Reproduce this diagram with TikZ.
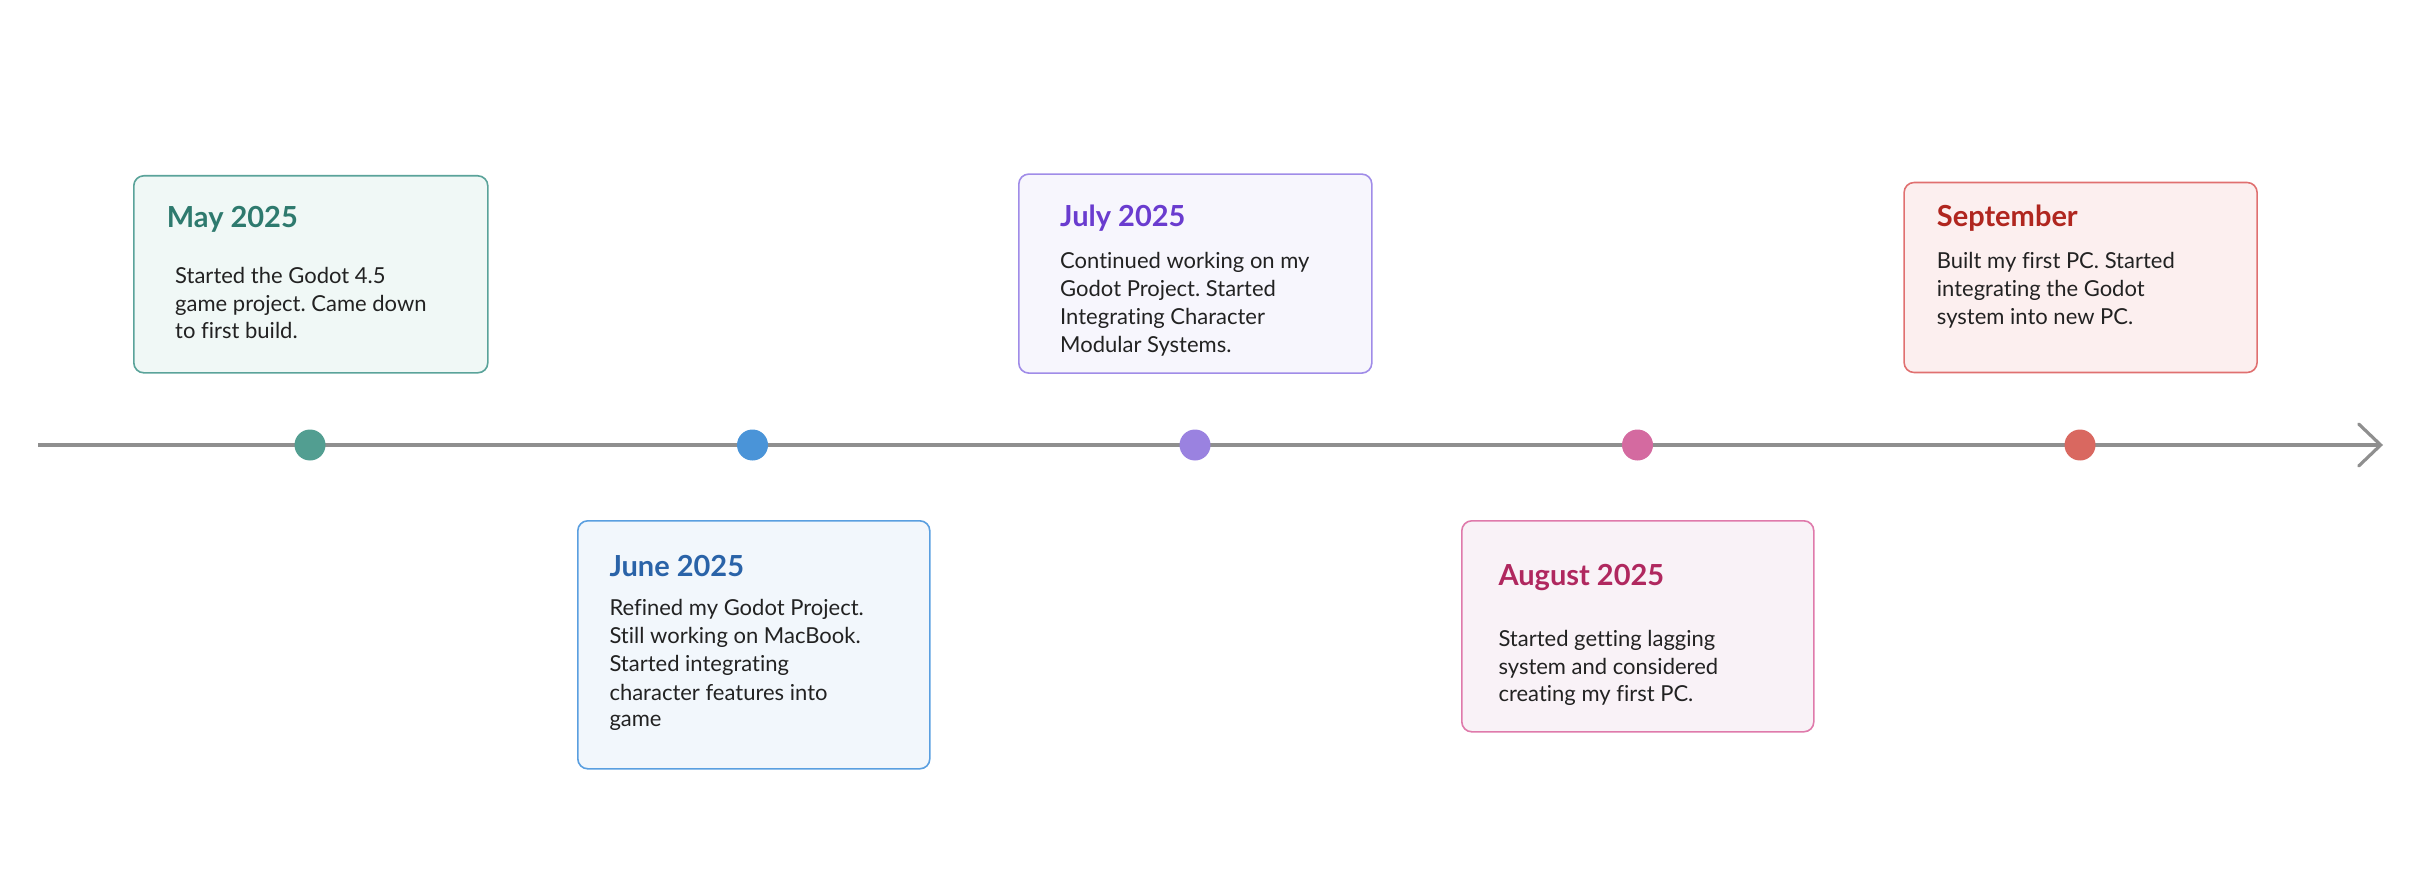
\documentclass[tikz,border=0pt]{standalone}
\usepackage{fontspec}
\setmainfont{Lato}[Ligatures=NoCommon]
\frenchspacing
\usetikzlibrary{arrows.meta}

% palette
\definecolor{axisgray}{HTML}{8F8F8F}
\definecolor{bodyink}{HTML}{222222}
\definecolor{tealline}{HTML}{5AA39A}\definecolor{tealfill}{HTML}{F0F8F6}\definecolor{tealink}{HTML}{2E7A6E}\definecolor{tealdot}{HTML}{529E91}
\definecolor{blueline}{HTML}{5A9FE0}\definecolor{bluefill}{HTML}{F2F7FC}\definecolor{blueink}{HTML}{2A63A8}\definecolor{bluedot}{HTML}{4A94D8}
\definecolor{violetline}{HTML}{A08CE8}\definecolor{violetfill}{HTML}{F7F6FD}\definecolor{violetink}{HTML}{6A3CCF}\definecolor{violetdot}{HTML}{9A82E0}
\definecolor{pinkline}{HTML}{DF7AAB}\definecolor{pinkfill}{HTML}{F9F2F7}\definecolor{pinkink}{HTML}{B0285F}\definecolor{pinkdot}{HTML}{D46AA0}
\definecolor{redline}{HTML}{E07070}\definecolor{redfill}{HTML}{FCEFEF}\definecolor{redink}{HTML}{B0261F}\definecolor{reddot}{HTML}{D96860}

\tikzset{
  card/.style 2 args={draw=#1, fill=#2, line width=1.6pt, rounded corners=10pt,
    inner sep=0pt, anchor=north west},
  heading/.style={anchor=base west, inner sep=0pt, text=#1,
    font=\fontsize{29}{34}\selectfont\bfseries},
  line/.style={anchor=base west, inner sep=0pt, text=bodyink,
    font=\fontsize{22}{28}\selectfont},
  milestone/.style={circle, fill=#1, minimum size=31pt, inner sep=0pt},
  axis/.style={draw=axisgray, line width=3.2pt,
    -{Straight Barb[length=22pt, width=42pt, line width=3.2pt, line cap=round]}},
}

\begin{document}
\begin{tikzpicture}[x=1pt, y=-1pt]
\useasboundingbox (0,0) rectangle (2418,869);

% timeline axis
\coordinate (axstart) at (38,445);
\coordinate (axend) at (2383,445);
\draw[axis] (axstart) -- (axend);

% milestones on the axis
\node[milestone=tealdot]   (d1) at (310,445) {};
\node[milestone=bluedot]   (d2) at (752.5,445) {};
\node[milestone=violetdot] (d3) at (1195,445) {};
\node[milestone=pinkdot]   (d4) at (1637.5,445) {};
\node[milestone=reddot]    (d5) at (2080,445) {};

% May
\node[card={tealline}{tealfill}, minimum width=354pt, minimum height=197pt] (b1) at (133,175) {};
\node[heading=tealink] (t1) at (166.7,228) {May 2025};
\node[line] (l11) at (175,283.3) {Started the Godot 4.5};
\node[line] (l12) at (175,311.7) {game project. Came down};
\node[line] (l13) at (175,338.3) {to first build.};

% June
\node[card={blueline}{bluefill}, minimum width=352pt, minimum height=248pt] (b2) at (577,520) {};
\node[heading=blueink] (t2) at (609.3,576.7) {June 2025};
\node[line] (l21) at (609.3,615) {Refined my Godot Project.};
\node[line] (l22) at (609.3,643.3) {Still working on MacBook.};
\node[line] (l23) at (609.3,671.7) {Started integrating};
\node[line] (l24) at (609.3,700) {character features into};
\node[line] (l25) at (609.3,726.7) {game};

% July
\node[card={violetline}{violetfill}, minimum width=353pt, minimum height=199pt] (b3) at (1018,173.3) {};
\node[heading=violetink] (t3) at (1060,226.7) {July 2025};
\node[line] (l31) at (1060,268.3) {Continued working on my};
\node[line] (l32) at (1060,296) {Godot Project. Started};
\node[line] (l33) at (1060,324.3) {Integrating Character};
\node[line] (l34) at (1060,352.7) {Modular Systems.};

% August
\node[card={pinkline}{pinkfill}, minimum width=352pt, minimum height=211pt] (b4) at (1461,520) {};
\node[heading=pinkink] (t4) at (1498.3,585) {August 2025};
\node[line] (l41) at (1498.3,646.7) {Started getting lagging};
\node[line] (l42) at (1498.3,674.3) {system and considered};
\node[line] (l43) at (1498.3,701.7) {creating my first PC.};

% September
\node[card={redline}{redfill}, minimum width=353pt, minimum height=190pt] (b5) at (1903.3,181.7) {};
\node[heading=redink] (t5) at (1936.7,226.7) {September};
\node[line] (l51) at (1936.7,268.3) {Built my first PC. Started};
\node[line] (l52) at (1936.7,296.7) {integrating the Godot};
\node[line] (l53) at (1936.7,324) {system into new PC.};
\end{tikzpicture}
\end{document}
